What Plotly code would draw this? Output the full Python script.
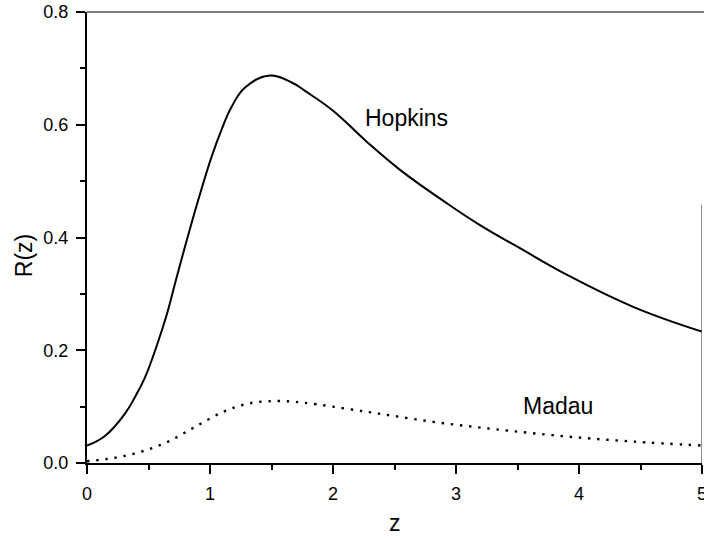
import plotly.graph_objects as go

hopkins_z = [0, 0.146, 0.31, 0.39, 0.47, 0.567, 0.648, 0.721, 0.797, 0.905, 1.014, 1.095,
             1.176, 1.285, 1.474, 1.664, 1.772, 2.0, 2.274, 2.545, 2.924, 3.195, 3.52, 3.9, 4.44, 5.0]
hopkins_r = [0.031, 0.048, 0.088, 0.117, 0.151, 0.208, 0.263, 0.323, 0.384, 0.467, 0.544, 0.592,
             0.632, 0.666, 0.687, 0.675, 0.660, 0.625, 0.570, 0.520, 0.461, 0.422, 0.381, 0.334, 0.277, 0.233]

madau_z = [0, 0.22, 0.44, 0.66, 0.878, 1.11, 1.325, 1.555, 1.76, 2.27, 2.815, 3.358, 3.9, 4.44, 5.0]
madau_r = [0.003, 0.009, 0.020, 0.038, 0.064, 0.091, 0.106, 0.110, 0.107, 0.091, 0.073, 0.059, 0.047, 0.038, 0.031]

y_ticks = [0.0, 0.2, 0.4, 0.6, 0.8]
y_labels = ["0.0", "0.2", "0.4", "0.6", "0.8"]
y_minor = [0.1, 0.3, 0.5, 0.7]
x_ticks = [0, 1, 2, 3, 4, 5]
x_labels = ["0", "1", "2", "3", "4", "5"]
x_minor = [0.5, 1.5, 2.5, 3.5, 4.5]

FONT = "Liberation Sans, Arial, sans-serif"

fig = go.Figure()
fig.add_trace(go.Scatter(x=hopkins_z, y=hopkins_r, mode="lines", name="Hopkins",
                         line=dict(color="black", width=2, shape="spline", smoothing=1.2)))
fig.add_trace(go.Scatter(x=madau_z, y=madau_r, mode="lines", name="Madau",
                         line=dict(color="black", width=2.4, shape="spline", smoothing=1.0,
                                   dash="2.4px,6.8px")))

fig.add_annotation(x=2.6, y=0.612, text="Hopkins", showarrow=False,
                   font=dict(family=FONT, size=23, color="black"))
fig.add_annotation(x=3.83, y=0.102, text="Madau", showarrow=False,
                   font=dict(family=FONT, size=23, color="black"))

# axis titles
fig.add_annotation(xref="paper", yref="paper", x=0.5, y=-0.132, yanchor="middle",
                   text="z", showarrow=False, font=dict(family=FONT, size=23, color="black"))
fig.add_annotation(xref="paper", yref="paper", x=-0.103, xanchor="center", y=0.46,
                   text="R(z)", textangle=-90, showarrow=False,
                   font=dict(family=FONT, size=23, color="black"))

# top frame line and partial right frame line
fig.add_shape(type="line", xref="paper", yref="paper", x0=0, x1=1.01, y0=1, y1=1,
              line=dict(color="#555555", width=1.3))
fig.add_shape(type="line", xref="x", yref="y", x0=5, x1=5, y0=0, y1=0.458,
              line=dict(color="#555555", width=1.3))

fig.update_layout(
    width=704, height=538,
    margin=dict(l=87, r=2, t=12, b=75, autoexpand=False),
    paper_bgcolor="white", plot_bgcolor="white",
    showlegend=False,
    font=dict(family=FONT, color="black"),
    xaxis=dict(range=[0, 5], tickvals=x_ticks, ticktext=x_labels, automargin=False,
               ticklabeloverflow="allow", ticklabelstandoff=4,
               showgrid=False, zeroline=False, showline=True, linecolor="black", linewidth=2,
               ticks="outside", ticklen=9, tickwidth=2, tickcolor="black",
               tickfont=dict(family=FONT, size=18),
               minor=dict(tickvals=x_minor, ticks="outside", ticklen=5,
                          tickwidth=2, tickcolor="black", showgrid=False)),
    yaxis=dict(range=[0, 0.8], tickvals=y_ticks, ticktext=y_labels, automargin=False,
               ticklabeloverflow="allow", ticklabelstandoff=4,
               showgrid=False, zeroline=False, showline=True, linecolor="black", linewidth=2,
               ticks="outside", ticklen=9, tickwidth=2, tickcolor="black",
               tickfont=dict(family=FONT, size=18),
               minor=dict(tickvals=y_minor, ticks="outside", ticklen=5,
                          tickwidth=2, tickcolor="black", showgrid=False)),
)

fig.write_html("out.html", config={"displayModeBar": False},
               post_script="document.body.style.margin='0';document.body.style.overflow='hidden';")
